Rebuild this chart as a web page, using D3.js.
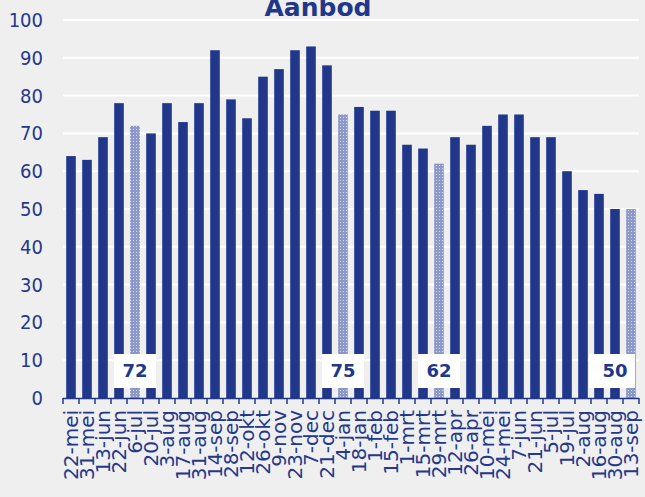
<!DOCTYPE html>
<html>
<head>
<meta charset="utf-8">
<script src="https://cdn.jsdelivr.net/npm/d3@7"></script>
<style>
  html, body { margin: 0; padding: 0; background: #efefef; }
  svg { display: block; font-family: "DejaVu Sans", sans-serif; }
</style>
</head>
<body>
<div id="chart"></div>
<script>
// data
var dates = ["22-mei","31-mei","13-jun","22-jun","6-jul","20-jul","3-aug","17-aug","31-aug","14-sep",
  "28-sep","12-okt","26-okt","9-nov","23-nov","7-dec","21-dec","4-jan","18-jan","1-feb",
  "15-feb","1-mrt","15-mrt","29-mrt","12-apr","26-apr","10-mei","24-mei","7-jun","21-jun",
  "5-jul","19-jul","2-aug","16-aug","30-aug","13-sep"];
var aanbod = [64,63,69,78,72,70,78,73,78,92,79,74,85,87,92,93,88,75,77,76,76,67,66,62,69,67,72,75,75,69,69,60,55,54,50,50];
var highlighted = ["6-jul","4-jan","29-mrt","13-sep"];
var yTicks = [0,10,20,30,40,50,60,70,80,90,100];

var width = 645, height = 497;
var margin = {top: 20, right: 6, bottom: 99, left: 63};
var plotW = width - margin.left - margin.right,
    plotH = height - margin.top - margin.bottom;

var barColor = "#20378a", textColor = "#25388b";

var svg = d3.select("#chart").append("svg")
  .attr("width", width).attr("height", height);

// dotted fill for the highlighted bars
var pat = svg.append("defs").append("pattern")
  .attr("id", "dots").attr("patternUnits", "userSpaceOnUse")
  .attr("width", 3).attr("height", 3);
pat.append("rect").attr("width", 3).attr("height", 3).attr("fill", "#8d98c8");
pat.append("rect").attr("x", 1).attr("y", 1).attr("width", 1).attr("height", 1).attr("fill", "#d4d9ec");

var g = svg.append("g").attr("transform", "translate(" + margin.left + "," + margin.top + ")");

var x = d3.scaleBand().domain(dates).range([0, plotW]).paddingInner(0.4).paddingOuter(0.2);
var y = d3.scaleLinear().domain([0, 100]).range([plotH, 0]);

// gridlines
g.selectAll("line.grid").data(yTicks.slice(1)).enter().append("line")
  .attr("class", "grid")
  .attr("x1", 0).attr("x2", plotW)
  .attr("y1", function (d) { return y(d); }).attr("y2", function (d) { return y(d); })
  .attr("stroke", "#ffffff").attr("stroke-width", 2);

// y axis labels
var yAxis = d3.axisLeft(y).tickValues(yTicks).tickSize(0).tickPadding(20);
var yg = g.append("g").call(yAxis);
yg.select(".domain").remove();
yg.selectAll("text").attr("fill", textColor)
  .style("font-family", "'DejaVu Sans Condensed', 'Liberation Sans Narrow', 'DejaVu Sans', sans-serif")
  .style("font-size", "20px");

// bars
g.selectAll("rect.bar").data(aanbod).enter().append("rect")
  .attr("class", "bar")
  .attr("x", function (d, i) { return x(dates[i]); })
  .attr("width", x.bandwidth())
  .attr("y", function (d) { return y(d); })
  .attr("height", function (d) { return plotH - y(d); })
  .attr("fill", function (d, i) { return highlighted.indexOf(dates[i]) >= 0 ? "url(#dots)" : barColor; });

// x axis with band ticks
var xg = g.append("g").attr("transform", "translate(0," + plotH + ")");
xg.append("line").attr("x1", 0).attr("x2", plotW).attr("y1", 0.5).attr("y2", 0.5)
  .attr("stroke", barColor).attr("stroke-width", 1.5);
var step = x.step();
var bounds = d3.range(dates.length + 1).map(function (i) { return x(dates[0]) - x.paddingInner() * step / 2 + i * step; });
xg.selectAll("line.tick").data(bounds).enter().append("line")
  .attr("class", "tick")
  .attr("x1", function (d) { return d; }).attr("x2", function (d) { return d; })
  .attr("y1", 0).attr("y2", 6)
  .attr("stroke", barColor).attr("stroke-width", 1.5);

xg.selectAll("text").data(dates).enter().append("text")
  .attr("transform", function (d) { return "translate(" + (x(d) + x.bandwidth() / 2 + 7) + ",12) rotate(-90)"; })
  .attr("text-anchor", "end")
  .attr("fill", textColor)
  .style("font-size", "20px")
  .text(function (d) { return d; });

// value boxes for the highlighted bars
var boxW = 42, boxH = 34;
var lab = g.selectAll("g.lab").data(highlighted).enter().append("g").attr("class", "lab")
  .attr("transform", function (d) {
    var cx = x(d) + x.bandwidth() / 2;
    var bx = Math.min(cx - boxW / 2, plotW - 4 - boxW - 4);
    return "translate(" + bx + "," + (plotH - 44) + ")";
  });
lab.append("rect").attr("width", function (d, i) { return i === highlighted.length - 1 ? boxW + 4 : boxW; })
  .attr("height", boxH).attr("fill", "#ffffff");
lab.append("text")
  .attr("x", function (d, i) { return i === highlighted.length - 1 ? boxW / 2 + 5 : boxW / 2; })
  .attr("y", boxH / 2).attr("dy", "0.36em")
  .attr("text-anchor", "middle")
  .attr("fill", barColor)
  .style("font-size", "18px").style("font-weight", "bold")
  .text(function (d) { return aanbod[dates.indexOf(d)]; });

// title
svg.append("text")
  .attr("x", 318).attr("y", 16)
  .attr("text-anchor", "middle")
  .attr("fill", barColor)
  .style("font-size", "25px").style("font-weight", "bold")
  .text("Aanbod");
</script>
</body>
</html>
